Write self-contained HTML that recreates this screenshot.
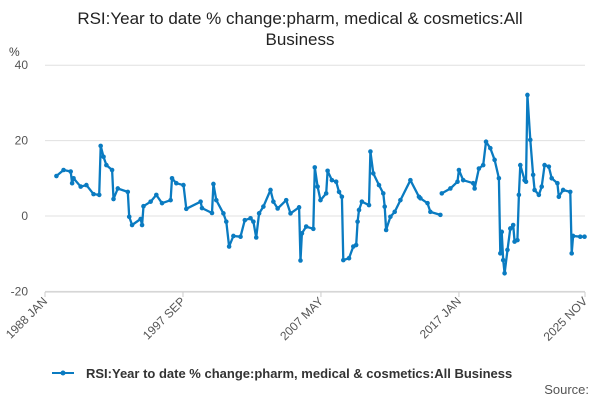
<!DOCTYPE html>
<html><head><meta charset="utf-8"><style>
body{margin:0;background:#fff;width:600px;height:400px;overflow:hidden;font-family:"Liberation Sans",Arial,sans-serif}
</style></head><body>
<svg id="chart" width="600" height="400">
<text x="300" y="24" text-anchor="middle" font-size="17" fill="#222">RSI:Year to date % change:pharm, medical &amp; cosmetics:All</text>
<text x="300" y="45" text-anchor="middle" font-size="17" fill="#222">Business</text>
<text x="9" y="56" font-size="12" fill="#444">%</text>
<g id="grid"></g><g id="xaxis"></g><g id="series"></g>
<g>
<line x1="52" y1="373" x2="74" y2="373" stroke="#0a7bc1" stroke-width="2"/>
<circle cx="63" cy="373" r="2.5" fill="#0a7bc1"/>
<text x="86" y="378" font-size="13" font-weight="bold" fill="#333">RSI:Year to date % change:pharm, medical &amp; cosmetics:All Business</text>
</g>
<text x="589" y="394" text-anchor="end" font-size="13" fill="#555">Source:</text>
</svg>
<script>
const yTicks=[40,20,0,-20];
const xTickValues=[1988.0,1997.667,2007.333,2017.0,2025.833];
const xTickLabels=["1988 JAN","1997 SEP","2007 MAY","2017 JAN","2025 NOV"];
const dates=[1988.8,1989.3,1989.8,1989.9,1990.0,1990.5,1990.9,1991.4,1991.8,1991.9,1992.1,1992.3,1992.7,1992.8,1993.1,1993.8,1993.9,1994.1,1994.7,1994.8,1994.9,1995.4,1995.8,1996.2,1996.8,1996.9,1997.2,1997.7,1997.9,1998.9,1999.0,1999.7,1999.8,2000.0,2000.5,2000.7,2000.9,2001.2,2001.7,2002.0,2002.4,2002.6,2002.8,2003.0,2003.3,2003.8,2004.0,2004.3,2004.9,2005.2,2005.8,2005.9,2006.0,2006.3,2006.8,2006.9,2007.1,2007.3,2007.7,2007.8,2008.1,2008.4,2008.6,2008.8,2008.9,2009.3,2009.6,2009.8,2009.9,2010.0,2010.2,2010.7,2010.8,2011.0,2011.4,2011.7,2011.8,2011.9,2012.2,2012.5,2012.9,2013.6,2014.2,2014.3,2014.8,2015.0,2015.7,2015.75,2015.8,2016.4,2016.9,2017.0,2017.3,2018.0,2018.1,2018.4,2018.7,2018.9,2019.2,2019.5,2019.8,2019.9,2020.0,2020.1,2020.2,2020.4,2020.6,2020.8,2020.9,2021.1,2021.2,2021.3,2021.6,2021.7,2021.8,2022.0,2022.2,2022.3,2022.6,2022.8,2023.0,2023.3,2023.5,2023.9,2024.0,2024.3,2024.8,2024.9,2025.0,2025.5,2025.8];
const values=[10.6,12.2,11.8,8.7,10,7.8,8.2,5.8,5.6,18.6,15.7,13.5,12.2,4.5,7.3,6.4,-0.2,-2.4,-0.8,-2.4,2.6,3.8,5.6,3.4,4.2,10,8.7,8.2,1.9,3.8,2.1,0.8,8.5,4.2,0.7,-1.5,-8.1,-5.3,-5.5,-1.1,-0.6,-1.5,-5.7,0.7,2.5,6.9,3.8,2,4.2,0.7,2.3,-11.8,-4.6,-2.8,-3.4,12.9,7.8,4.2,6,12,9.5,9.1,6.4,5.1,-11.7,-11.2,-8.1,-7.7,-1.5,1.6,3.8,2.9,17.1,11.3,8.2,6,2.5,-3.7,-0.2,1.1,4.2,9.5,5.1,4.7,3.4,1.1,0.3,null,6,7.3,9.1,12.2,9.5,8.7,7.3,12.6,13.5,19.7,18,14.9,10,-9.9,-4.2,-11.7,-15.2,-9,-3.3,-2.4,-6.8,-6.4,5.6,13.5,9.5,9.1,32.1,20.2,10.9,6.9,5.6,7.8,13.5,13.1,10,8.7,5.1,6.9,6.4,-9.9,-5.3,-5.5,-5.5];
const X0=45,X1=585,Y0=216,PX=3.77;
const xs=d=>X0+(d-1988)/(2025.833-1988)*(X1-X0);
const ys=v=>Y0-v*PX;
const NS="http://www.w3.org/2000/svg";
const grid=document.getElementById('grid');
yTicks.forEach(t=>{
 const l=document.createElementNS(NS,'line');
 l.setAttribute('x1',X0);l.setAttribute('x2',X1);l.setAttribute('y1',ys(t));l.setAttribute('y2',ys(t));
 l.setAttribute('stroke','#e0e0e0');
 
 
 grid.appendChild(l);
 const tx=document.createElementNS(NS,'text');
 tx.setAttribute('x',28);tx.setAttribute('y',ys(t)+4);tx.setAttribute('text-anchor','end');
 tx.setAttribute('font-size','12');tx.setAttribute('fill','#555');tx.textContent=t;
 
 
 grid.appendChild(tx);
});
const xa=document.getElementById('xaxis');
const al=document.createElementNS(NS,'line');
al.setAttribute('x1',X0);al.setAttribute('x2',X1);al.setAttribute('y1',292);al.setAttribute('y2',292);al.setAttribute('stroke','#ccc');


xa.appendChild(al);
xTickValues.forEach((v,i)=>{
 const x=xs(v);
 const tk=document.createElementNS(NS,'line');
 tk.setAttribute('x1',x);tk.setAttribute('x2',x);tk.setAttribute('y1',292);tk.setAttribute('y2',297);tk.setAttribute('stroke','#ccc');
 
 
 xa.appendChild(tk);
 const tx=document.createElementNS(NS,'text');
 tx.setAttribute('transform',`translate(${x+3},${302}) rotate(-45)`);
 tx.setAttribute('text-anchor','end');tx.setAttribute('font-size','12');tx.setAttribute('fill','#555');
 tx.textContent=xTickLabels[i];
 
 
 xa.appendChild(tx);
});
const sg=document.getElementById('series');
let d="",pen=false;
dates.forEach((t,i)=>{
 if(values[i]===null){pen=false;return;}
 d+=(pen?"L":"M")+xs(t).toFixed(1)+","+ys(values[i]).toFixed(1);pen=true;
});
const p=document.createElementNS(NS,'path');
p.setAttribute('d',d);p.setAttribute('fill','none');p.setAttribute('stroke','#0a7bc1');p.setAttribute('stroke-width','2.3');p.setAttribute('stroke-linejoin','round');


sg.appendChild(p);
dates.forEach((t,i)=>{
 if(values[i]===null)return;
 const c=document.createElementNS(NS,'circle');
 c.setAttribute('cx',xs(t));c.setAttribute('cy',ys(values[i]));c.setAttribute('r','2.3');c.setAttribute('fill','#0a7bc1');
 
 
 sg.appendChild(c);
});
</script>
</body></html>
